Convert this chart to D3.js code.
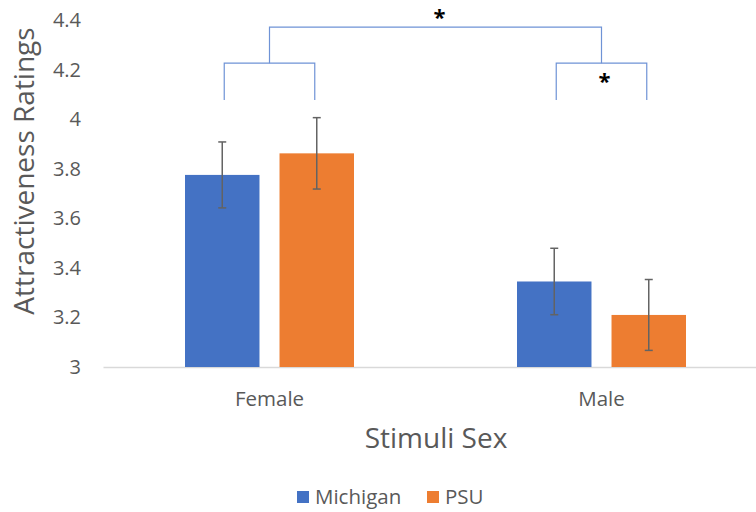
<!DOCTYPE html>
<html>
<head>
<meta charset="utf-8">
<script src="https://cdn.jsdelivr.net/npm/d3@7"></script>
<style>
  body { margin: 0; background: #fff; }
  svg { display: block; }
  text { font-family: "Open Sans", "Liberation Sans", sans-serif; }
</style>
</head>
<body>
<svg id="chart" width="756" height="512"></svg>
<script>
// ---- Data ----
const categories = ["Female", "Male"];
const seriesNames = ["Michigan", "PSU"];
const michiganValues = [3.775, 3.345];
const psuValues = [3.862, 3.21];
const michiganErrors = [0.133, 0.134];
const psuErrors = [0.144, 0.143];
const yTicks = [3, 3.2, 3.4, 3.6, 3.8, 4, 4.2, 4.4];
const yTickLabels = ["3", "3.2", "3.4", "3.6", "3.8", "4", "4.2", "4.4"];
const seriesColors = ["#4472C4", "#ED7D31"];
const xTitle = "Stimuli Sex";
const yTitle = "Attractiveness Ratings";

// significance brackets (data-level annotations)
const innerBrackets = [
  { category: "Female", star: false },
  { category: "Male", star: true }
];
const outerBracket = { star: true };

const svg = d3.select("#chart");
const x0 = d3.scaleBand().domain(categories).range([103.5, 767.5]).paddingInner(0).paddingOuter(0);
const x1 = d3.scaleBand().domain(seriesNames).range([81.5, 250.5]).paddingInner(0.212).paddingOuter(0);
const y = d3.scaleLinear().domain([3, 4.4]).range([367, 20]);
const color = d3.scaleOrdinal().domain(seriesNames).range(seriesColors);

const textColor = "#595959";

// y tick labels
svg.append("g").selectAll("text").data(yTicks).join("text")
  .attr("x", 81).attr("y", d => y(d) + 7)
  .attr("text-anchor", "end")
  .attr("fill", textColor).attr("font-size", 20)
  .text((d, i) => yTickLabels[i]);

// baseline
svg.append("line")
  .attr("x1", 103.5).attr("x2", 756).attr("y1", y(3) + 0.5).attr("y2", y(3) + 0.5)
  .attr("stroke", "#d9d9d9").attr("stroke-width", 1.5);

// bars
const rows = categories.map((c, i) => ({
  category: c,
  values: [
    { series: "Michigan", value: michiganValues[i], err: michiganErrors[i] },
    { series: "PSU", value: psuValues[i], err: psuErrors[i] }
  ]
}));

const groups = svg.append("g").selectAll("g").data(rows).join("g")
  .attr("transform", d => `translate(${x0(d.category)},0)`);

groups.selectAll("rect").data(d => d.values).join("rect")
  .attr("x", d => x1(d.series))
  .attr("width", x1.bandwidth())
  .attr("y", d => y(d.value))
  .attr("height", d => y(3) - y(d.value))
  .attr("fill", d => color(d.series));

// error bars
const eb = groups.selectAll("g.eb").data(d => d.values).join("g").attr("class", "eb");
const ebColor = "#636363";
eb.append("line")
  .attr("x1", d => x1(d.series) + x1.bandwidth() / 2)
  .attr("x2", d => x1(d.series) + x1.bandwidth() / 2)
  .attr("y1", d => y(d.value + d.err)).attr("y2", d => y(d.value - d.err))
  .attr("stroke", ebColor).attr("stroke-width", 1.5);
eb.selectAll("line.cap").data(d => [
  { cx: x1(d.series) + x1.bandwidth() / 2, v: d.value + d.err },
  { cx: x1(d.series) + x1.bandwidth() / 2, v: d.value - d.err }
]).join("line").attr("class", "cap")
  .attr("x1", d => d.cx - 4).attr("x2", d => d.cx + 4)
  .attr("y1", d => y(d.v)).attr("y2", d => y(d.v))
  .attr("stroke", ebColor).attr("stroke-width", 1.5);

// x category labels
svg.append("g").selectAll("text").data(categories).join("text")
  .attr("x", d => x0(d) + x1.range()[0] + (x1.range()[1] - x1.range()[0]) / 2)
  .attr("y", 406).attr("text-anchor", "middle")
  .attr("fill", textColor).attr("font-size", 20.5)
  .text(d => d);

// axis titles
svg.append("text")
  .attr("x", 436).attr("y", 448).attr("text-anchor", "middle")
  .attr("fill", textColor).attr("font-size", 28).text(xTitle);
svg.append("text")
  .attr("transform", `translate(34,171) rotate(-90)`)
  .attr("text-anchor", "middle")
  .attr("fill", textColor).attr("font-size", 28).text(yTitle);

// brackets
const bracketColor = "#6F93D6";
const barCenter = (cat, s) => x0(cat) + x1(s) + x1.bandwidth() / 2;
const innerTop = 4.226, innerBottom = 4.077, outerTop = 4.371;
const bg = svg.append("g").attr("fill", "none").attr("stroke", bracketColor).attr("stroke-width", 1.2);
innerBrackets.forEach(b => {
  const xa = barCenter(b.category, "Michigan") + 2, xb = barCenter(b.category, "PSU") - 2;
  bg.append("path").attr("d", `M${xa},${y(innerBottom)}V${y(innerTop)}H${xb}V${y(innerBottom)}`);
  if (b.star) {
    svg.append("text").attr("x", (xa + xb) / 2 + 3).attr("y", y(innerTop) + 26)
      .attr("text-anchor", "middle").attr("font-size", 22).attr("font-weight", "bold")
      .attr("fill", "#000").text("*");
  }
});
const fMid = (barCenter("Female", "Michigan") + barCenter("Female", "PSU")) / 2;
const mMid = (barCenter("Male", "Michigan") + barCenter("Male", "PSU")) / 2;
bg.append("path").attr("d", `M${fMid},${y(innerTop)}V${y(outerTop)}H${mMid}V${y(innerTop)}`);
if (outerBracket.star) {
  svg.append("text").attr("x", (fMid + mMid) / 2 + 4).attr("y", y(outerTop) - 2)
    .attr("text-anchor", "middle").attr("font-size", 22).attr("font-weight", "bold")
    .attr("fill", "#000").text("*");
}

// legend
const legend = svg.append("g");
const legendItems = [
  { name: "Michigan", x: 297 },
  { name: "PSU", x: 427 }
];
legendItems.forEach(it => {
  legend.append("rect").attr("x", it.x).attr("y", 491).attr("width", 12).attr("height", 12)
    .attr("fill", color(it.name));
  legend.append("text").attr("x", it.x + 18).attr("y", 504)
    .attr("fill", textColor).attr("font-size", 20.5).text(it.name);
});
</script>
</body>
</html>
